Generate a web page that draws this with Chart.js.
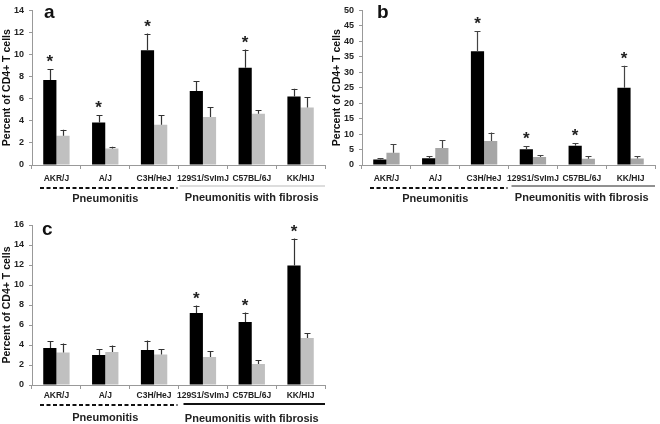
<!DOCTYPE html>
<html>
<head>
<meta charset="utf-8">
<script src="https://cdn.jsdelivr.net/npm/chart.js@4/dist/chart.umd.min.js"></script>
<style>
  html, body { margin: 0; padding: 0; background: #fff; }
  #wrap { position: relative; width: 660px; height: 424px; overflow: hidden; }
  canvas { position: absolute; }
</style>
</head>
<body>
<div id="wrap">
  <canvas id="ca" width="330" height="210" style="left:0;top:0"></canvas>
  <canvas id="cb" width="330" height="210" style="left:330px;top:0"></canvas>
  <canvas id="cc" width="330" height="214" style="left:0;top:210px"></canvas>
</div>
<script>
// ---------- data ----------
const categories = ['AKR/J', 'A/J', 'C3H/HeJ', '129S1/SvImJ', 'C57BL/6J', 'KK/HIJ'];
const groupNames = ['Pneumonitis', 'Pneumonitis with fibrosis'];
const groupFrom = [0, 3];
const groupTo = [2, 5];

// Panel a
const aBlack = [7.7, 3.85, 10.4, 6.7, 8.8, 6.2];
const aBlackSD = [1.0, 0.65, 1.5, 0.9, 1.65, 0.7];
const aGray = [2.65, 1.5, 3.65, 4.35, 4.65, 5.2];
const aGraySD = [0.55, 0.15, 0.85, 0.9, 0.3, 0.95];
const aStars = [0, 1, 2, 4];
const aTicksMax = 14, aStep = 2;

// Panel b
const bBlack = [1.8, 2.2, 36.8, 5.1, 6.2, 25.0];
const bBlackSD = [0.5, 0.6, 6.5, 1.0, 0.9, 7.1];
const bGray = [4.0, 5.5, 7.8, 2.6, 2.0, 2.1];
const bGraySD = [2.7, 2.5, 2.7, 0.5, 0.9, 0.7];
const bStars = [2, 3, 4, 5];
const bTicksMax = 50, bStep = 5;

// Panel c
const cBlack = [3.7, 3.0, 3.5, 7.2, 6.3, 11.95];
const cBlackSD = [0.7, 0.6, 0.95, 0.75, 0.95, 2.7];
const cGray = [3.25, 3.3, 3.05, 2.8, 2.1, 4.7];
const cGraySD = [0.9, 0.65, 0.55, 0.6, 0.4, 0.5];
const cStars = [3, 4, 5];
const cTicksMax = 16, cStep = 2;

const yTitle = 'Percent of CD4+ T cells';
// ---------- end data ----------

const FONT = '"Liberation Sans", Arial, sans-serif';

function makePanel(canvasId, letter, black, blackSD, gray, graySD, stars, yMax, step, style) {
  const sds = [blackSD, graySD];
  const overlay = {
    id: 'overlay_' + canvasId,
    afterDatasetsDraw(chart) {
      const ctx = chart.ctx;
      const y = chart.scales.y;
      const x = chart.scales.x;
      ctx.save();
      // error bars
      chart.data.datasets.forEach((ds, di) => {
        const meta = chart.getDatasetMeta(di);
        meta.data.forEach((el, i) => {
          const top = y.getPixelForValue(ds.data[i] + sds[di][i]);
          ctx.strokeStyle = style.errColor;
          ctx.lineWidth = 1.2;
          ctx.beginPath();
          ctx.moveTo(Math.round(el.x) + 0.5, el.y);
          ctx.lineTo(Math.round(el.x) + 0.5, top);
          ctx.moveTo(Math.round(el.x) - 2.5, Math.round(top) + 0.5);
          ctx.lineTo(Math.round(el.x) + 3.5, Math.round(top) + 0.5);
          ctx.stroke();
        });
      });
      // stars
      const bm = chart.getDatasetMeta(0);
      ctx.fillStyle = '#222';
      ctx.font = 'bold 17px ' + FONT;
      ctx.textAlign = 'center';
      ctx.textBaseline = 'alphabetic';
      stars.forEach(i => {
        const el = bm.data[i];
        const top = y.getPixelForValue(black[i] + blackSD[i]);
        ctx.fillText('*', el.x, top - 2);
      });
      // group lines and labels
      const area = chart.chartArea;
      const half = (x.getPixelForValue(1) - x.getPixelForValue(0)) / 2;
      for (let g = 0; g < groupNames.length; g++) {
        const x0 = x.getPixelForValue(groupFrom[g]) - half;
        const x1 = x.getPixelForValue(groupTo[g]) + half;
        ctx.beginPath();
        if (g === 0) {
          ctx.setLineDash([4, 2.5]);
          ctx.strokeStyle = '#111';
          ctx.lineWidth = 2;
          ctx.moveTo(x0 + 8, area.bottom + style.lineOff);
          ctx.lineTo(x1 - 1, area.bottom + style.lineOff);
        } else {
          ctx.setLineDash([]);
          ctx.strokeStyle = style.solidColor;
          ctx.lineWidth = style.solidWidth;
          ctx.moveTo(x0 + style.solidStart, area.bottom + style.solidOff);
          ctx.lineTo(x1, area.bottom + style.solidOff);
        }
        ctx.stroke();
        ctx.setLineDash([]);
        ctx.fillStyle = '#222';
        ctx.font = 'bold 11px ' + FONT;
        ctx.textBaseline = 'middle';
        ctx.textAlign = 'center';
        ctx.fillText(groupNames[g], (x0 + x1) / 2, area.bottom + style.labelOff[g]);
      }
      // panel letter
      ctx.fillStyle = '#111';
      ctx.font = 'bold 19px ' + FONT;
      ctx.textAlign = 'left';
      ctx.textBaseline = 'alphabetic';
      ctx.fillText(letter, style.letterX, style.letterY);
      ctx.restore();
    }
  };

  return new Chart(document.getElementById(canvasId), {
    type: 'bar',
    data: {
      labels: categories,
      datasets: [
        { data: black, backgroundColor: '#000', borderWidth: 0, categoryPercentage: 0.54, barPercentage: 1.0 },
        { data: gray, backgroundColor: style.grayColor, borderWidth: 0, categoryPercentage: 0.54, barPercentage: 1.0 }
      ]
    },
    options: {
      responsive: false,
      animation: false,
      devicePixelRatio: 1,
      layout: { padding: { top: style.padTop, right: 5, left: 0, bottom: 0 } },
      plugins: { legend: { display: false }, tooltip: { enabled: false } },
      scales: {
        x: {
          afterFit(s) { s.height = style.xHeight; },
          grid: { display: true, drawOnChartArea: false, tickLength: 4, color: '#999', offset: true },
          border: { color: '#999', width: 1 },
          ticks: { color: '#222', font: { family: FONT, size: 8.5, weight: 'bold' }, padding: style.xPad, maxRotation: 0, autoSkip: false }
        },
        y: {
          min: 0, max: yMax,
          afterFit(s) { s.width = 32; },
          grid: { display: true, drawOnChartArea: false, tickLength: 3, color: '#999' },
          border: { color: '#999', width: 1 },
          ticks: { stepSize: step, color: '#222', font: { family: FONT, size: 9, weight: 'bold' }, padding: 5 },
          title: { display: true, text: yTitle, color: '#111', font: { family: FONT, size: 10.5, weight: 'bold' }, padding: { top: 1, bottom: 0 } }
        }
      }
    },
    plugins: [overlay]
  });
}

makePanel('ca', 'a', aBlack, aBlackSD, aGray, aGraySD, aStars, aTicksMax, aStep, {
  grayColor: '#c0c0c0', errColor: '#333', padTop: 6, xHeight: 45, xPad: 5,
  lineOff: 23, solidOff: 21, solidStart: 1, solidColor: '#bbb', solidWidth: 1, labelOff: [34, 33],
  letterX: 44, letterY: 18
});
makePanel('cb', 'b', bBlack, bBlackSD, bGray, bGraySD, bStars, bTicksMax, bStep, {
  grayColor: '#a6a6a6', errColor: '#444', padTop: 6, xHeight: 45, xPad: 5,
  lineOff: 23, solidOff: 21, solidStart: 3, solidColor: '#222', solidWidth: 1, labelOff: [34, 33],
  letterX: 47, letterY: 18
});
makePanel('cc', 'c', cBlack, cBlackSD, cGray, cGraySD, cStars, cTicksMax, cStep, {
  grayColor: '#c0c0c0', errColor: '#333', padTop: 15, xHeight: 39, xPad: 2,
  lineOff: 20, solidOff: 19, solidStart: 5, solidColor: '#111', solidWidth: 2, labelOff: [33, 34],
  letterX: 42, letterY: 25
});
</script>
</body>
</html>
